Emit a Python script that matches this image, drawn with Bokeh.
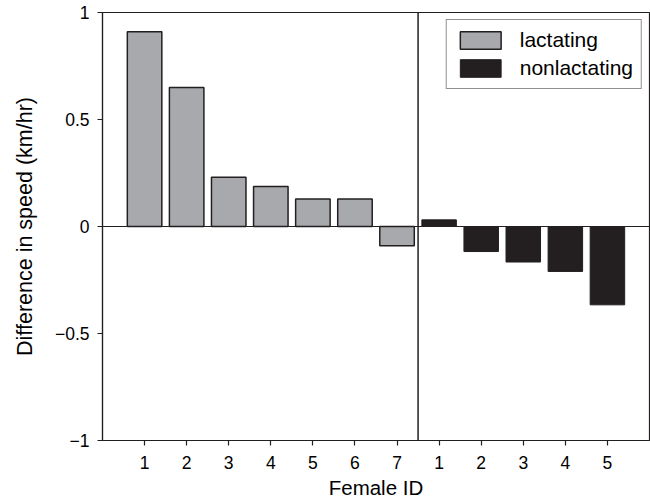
from bokeh.plotting import figure
from bokeh.models import FixedTicker, Span, Legend, LegendItem, ColumnDataSource, Range1d
from bokeh.embed import file_html
from bokeh.resources import INLINE

# ---- data ----
lactating_ids = ["1", "2", "3", "4", "5", "6", "7"]
lactating_diff = [0.91, 0.65, 0.23, 0.187, 0.128, 0.128, -0.09]
nonlactating_ids = ["1", "2", "3", "4", "5"]
nonlactating_diff = [0.031, -0.117, -0.166, -0.21, -0.366]
y_ticks = [-1, -0.5, 0, 0.5, 1]
y_tick_labels = ["\u22121", "\u22120.5", "0", "0.5", "1"]

FONT = "Liberation Sans"
DARK = "#231f20"
GRAY = "#a7a9ac"

n_l = len(lactating_diff)
n_n = len(nonlactating_diff)
x_l = list(range(1, n_l + 1))
x_n = list(range(n_l + 1, n_l + n_n + 1))

p = figure(width=650, height=503, output_backend="svg", toolbar_location=None,
           x_range=Range1d(0, n_l + n_n + 1), y_range=Range1d(-1, 1),
           min_border_left=102, min_border_right=1, min_border_top=12, min_border_bottom=63)
p.grid.visible = False
p.outline_line_color = DARK
p.outline_line_width = 1.2
p.background_fill_color = "white"
p.border_fill_color = "white"

src_l = ColumnDataSource(dict(x=x_l, top=lactating_diff))
src_n = ColumnDataSource(dict(x=x_n, top=nonlactating_diff))
r_l = p.vbar(x="x", top="top", bottom=0, width=0.82, source=src_l,
             fill_color=GRAY, line_color=DARK, line_width=1.5)
r_n = p.vbar(x="x", top="top", bottom=0, width=0.82, source=src_n,
             fill_color=DARK, line_color=DARK, line_width=1)

p.add_layout(Span(location=0, dimension="width", line_color=DARK, line_width=1))
p.add_layout(Span(location=n_l + 0.5, dimension="height", line_color=DARK, line_width=1.5))

# axes
p.xaxis.ticker = FixedTicker(ticks=x_l + x_n)
p.xaxis.major_label_overrides = {x: lab for x, lab in zip(x_l + x_n, lactating_ids + nonlactating_ids)}
p.yaxis.ticker = FixedTicker(ticks=y_ticks)
p.yaxis.major_label_overrides = {t: lab for t, lab in zip(y_ticks, y_tick_labels)}
for ax in (p.xaxis[0], p.yaxis[0]):
    ax.axis_line_color = DARK
    ax.axis_line_width = 1.2
    ax.major_tick_line_color = DARK
    ax.major_tick_line_width = 1.2
    ax.major_tick_in = 0
    ax.major_tick_out = 5
    ax.minor_tick_line_color = None
    ax.major_label_text_font = FONT
    ax.major_label_text_font_size = "17.5px"
    ax.major_label_text_color = "black"
    ax.axis_label_text_font = FONT
    ax.axis_label_text_font_style = "normal"
    ax.axis_label_text_color = "black"
p.xaxis.axis_label_text_font_size = "20.5px"
p.yaxis.axis_label_text_font_size = "21.5px"
p.xaxis.axis_label = "Female ID"
p.yaxis.axis_label = "Difference in speed (km/hr)"
p.xaxis.major_label_standoff = 10
p.xaxis.axis_label_standoff = 4
p.yaxis.major_label_standoff = 8
p.yaxis.axis_label_standoff = 15

legend = Legend(items=[LegendItem(label="lactating", renderers=[r_l]),
                       LegendItem(label="nonlactating", renderers=[r_n])],
                location="top_right", margin=7, padding=8, spacing=4,
                glyph_width=51, glyph_height=22, label_height=22, label_standoff=14,
                label_text_font=FONT, label_text_font_size="21px", label_text_color="black",
                border_line_color=DARK, border_line_width=1.5, background_fill_alpha=1)
p.add_layout(legend)

open("out.html", "w").write(file_html(p, INLINE))
